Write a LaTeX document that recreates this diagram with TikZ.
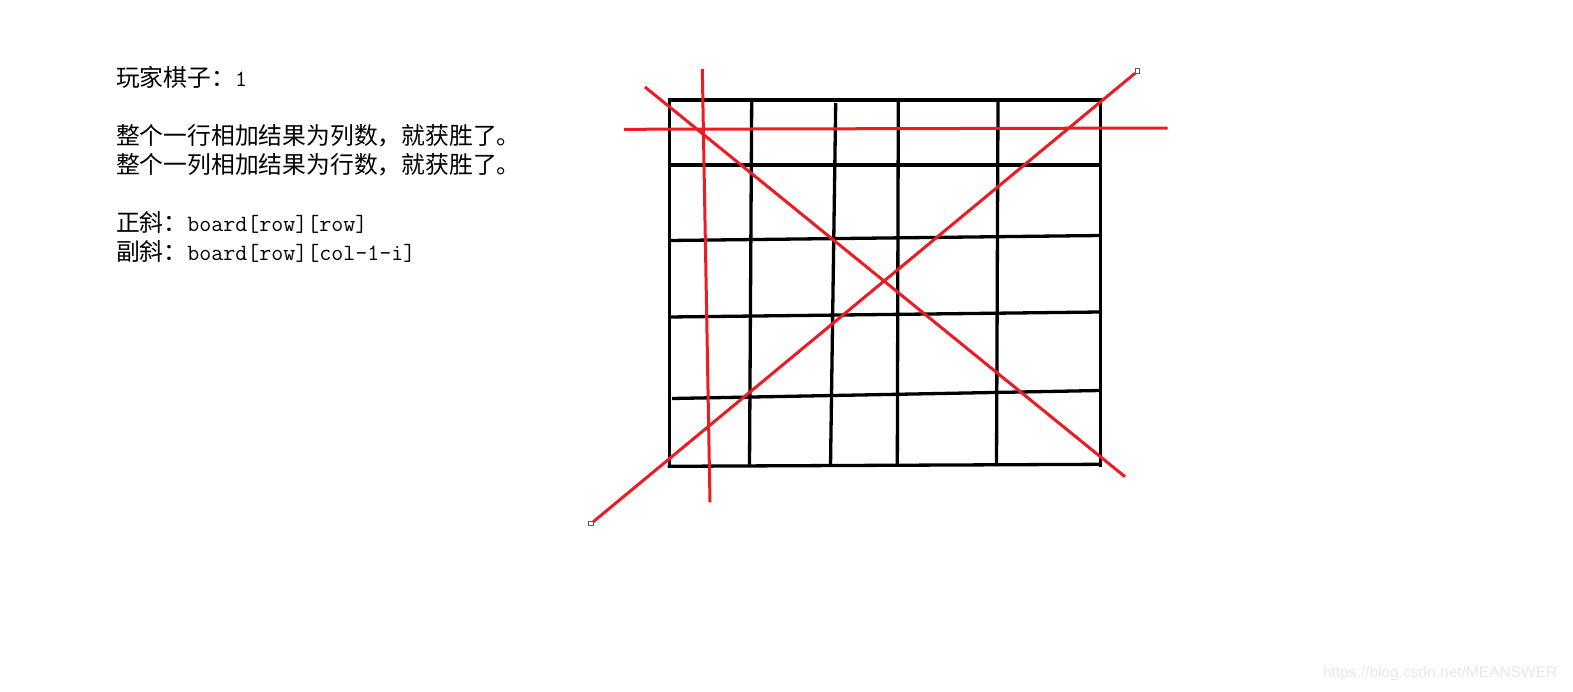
\documentclass[tikz,border=0pt]{standalone}
\usepackage{fontspec}
\newfontfamily\cjk{Noto Sans CJK SC}
\newfontfamily\wmfont{Liberation Sans}
\definecolor{paintred}{RGB}{237,28,36}
\definecolor{wmgray}{RGB}{232,232,232}
\definecolor{handlegray}{RGB}{90,90,90}
\tikzset{
  gridline/.style={draw=black,line width=3.3pt},
  redline/.style={draw=paintred,line width=3pt},
  handle/.style={draw=handlegray,fill=white,line width=0.9pt,minimum size=4.5pt,inner sep=0pt,rectangle},
  txt/.style={anchor=base west,inner sep=0pt,outer sep=0pt},
  cjktext/.style={font=\cjk\fontsize{23.8}{28}\selectfont},
}
\newcommand{\asc}[1]{{\ttfamily\fontsize{23.3}{28}\selectfont #1}}
\begin{document}
\begin{tikzpicture}[x=1pt,y=-1pt]
\fill[white] (0,0) rectangle (1573,691);
\useasboundingbox (0,0) rectangle (1573,691);

% ---- text ----
\node[txt,cjktext] (t1) at (116,86.7) {玩家棋子：\asc{1}};
\node[txt,cjktext] (t2) at (116,144.5) {整个一行相加结果为列数，就获胜了。};
\node[txt,cjktext] (t3) at (116,173.5) {整个一列相加结果为行数，就获胜了。};
\node[txt,cjktext] (t4) at (116,231.7) {正斜：\asc{board[row][row]}};
\node[txt,cjktext] (t5) at (116,260) {副斜：\asc{board[row][col-1-i]}};

% ---- grid (black) ----
% horizontal lines
\draw[gridline] (667.5,100) -- (1101.5,100);
\draw[gridline] (667.5,165) -- (1101.5,165);
\draw[gridline] (669,240.5) -- (1100,235.5);
\draw[gridline] (669,317) -- (1100,312);
\draw[gridline] (672,398.5) -- (1100,390.5);
\draw[gridline] (667.5,466.3) -- (1101.5,464.3);
% vertical lines
\draw[gridline] (669.5,98.5) -- (669.5,468);
\draw[gridline] (751.7,100) -- (749.5,466);
\draw[gridline] (835.7,103) -- (830.5,466);
\draw[gridline] (898.3,100) -- (897.3,466);
\draw[gridline] (998,100) -- (996.5,466);
\draw[gridline] (1100.3,98.5) -- (1100.3,467);

% ---- red lines ----
\coordinate (rvA) at (702.3,69);
\coordinate (rvB) at (710,502.3);
\coordinate (rhA) at (624,129.3);
\coordinate (rhB) at (1167.7,128);
\coordinate (rdA) at (645,87);
\coordinate (rdB) at (1125,476.7);
\coordinate (raA) at (593.3,521.7);
\coordinate (raB) at (1135,73.3);
\draw[redline] (rvA) -- (rvB);
\draw[redline] (rhA) -- (rhB);
\draw[redline] (rdA) -- (rdB);
\draw[redline] (raA) -- (raB);

% selection handles
\node[handle] (h1) at (591,523.3) {};
\node[handle] (h2) at (1137.3,71) {};

% ---- watermark ----
\node[txt,text=wmgray,font=\wmfont\fontsize{15.5}{18}\selectfont] (wm) at (1323,677.5) {https://blog.csdn.net/MEANSWER};
\end{tikzpicture}
\end{document}
